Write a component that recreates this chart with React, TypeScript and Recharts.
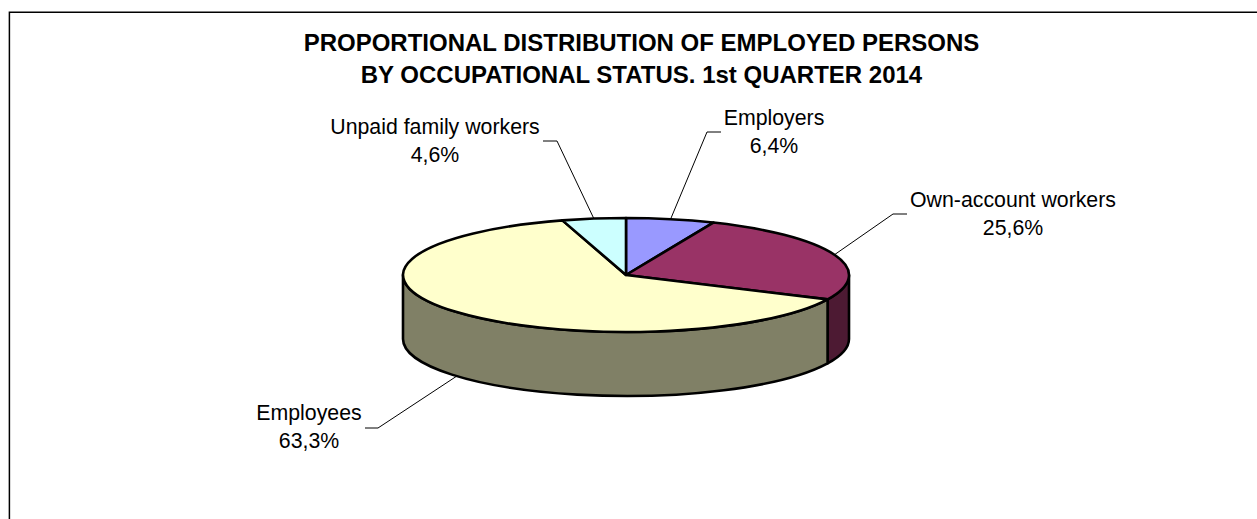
import { Pie, PieChart } from "recharts";

const categories = ["Employers", "Own-account workers", "Employees", "Unpaid family workers"];
const shares = [6.4, 25.6, 63.3, 4.6];
const topColors = ["#9999ff", "#993366", "#ffffcc", "#ccffff"];
const wallColors = ["#4d4d80", "#4d1a33", "#808066", "#668080"];
const titleLines = [
  "PROPORTIONAL DISTRIBUTION OF EMPLOYED PERSONS",
  "BY OCCUPATIONAL STATUS. 1st QUARTER 2014",
];

// elbow of each leader line, end of its short tail, and where its text sits
const leaderElbows = [
  [707, 132, 721],
  [893, 214, 907],
  [378, 428, 365],
  [557, 141, 543],
];
const labelCentres = [
  [774, 125],
  [1013, 207],
  [309, 420],
  [435, 134],
];

const WIDTH = 1257;
const HEIGHT = 519;
const CX = 626;
const CY = 275;
const RX = 223;
const TILT = 57 / 223;
const DEPTH = 64;
const EDGE = 2.6;
const FONT = '"Liberation Sans", Arial, sans-serif';

const RAD = Math.PI / 180;
const px = (cx: number, r: number, a: number) => cx + r * Math.cos(a * RAD);
const py = (cy: number, r: number, a: number) => cy - r * TILT * Math.sin(a * RAD);

function TopSector({ cx, cy, outerRadius: r, startAngle, endAngle, fill }: any) {
  const ry = r * TILT;
  const large = Math.abs(startAngle - endAngle) > 180 ? 1 : 0;
  const d = `M${cx} ${cy}L${px(cx, r, startAngle)} ${py(cy, r, startAngle)}A${r} ${ry} 0 ${large} 1 ${px(cx, r, endAngle)} ${py(cy, r, endAngle)}Z`;
  return <path d={d} fill={fill} stroke="#000" strokeWidth={EDGE} strokeLinejoin="round" />;
}

// the side of the pie only shows on the front half of the ellipse
function WallSector({ cx, cy, outerRadius: r, startAngle, endAngle, fill }: any) {
  const from = Math.min(startAngle, 0);
  const to = Math.max(endAngle, -180);
  if (from <= to) return null;
  const ry = r * TILT;
  const x1 = px(cx, r, from);
  const y1 = py(cy, r, from);
  const x2 = px(cx, r, to);
  const y2 = py(cy, r, to);
  const d = `M${x1} ${y1}A${r} ${ry} 0 0 1 ${x2} ${y2}L${x2} ${y2 + DEPTH}A${r} ${ry} 0 0 0 ${x1} ${y1 + DEPTH}Z`;
  return <path d={d} fill={fill} stroke="#000" strokeWidth={EDGE} strokeLinejoin="round" />;
}

function renderLabel({ index, name, value, midAngle, cx, cy, outerRadius }: any) {
  const startX = px(cx, outerRadius, midAngle);
  const lift = Math.sin(midAngle * RAD) < 0 ? DEPTH : 0;
  const startY = py(cy, outerRadius, midAngle) + lift;
  const [elbowX, elbowY, tailX] = leaderElbows[index];
  const [textX, textY] = labelCentres[index];
  return (
    <g key={name}>
      <polyline
        points={`${startX},${startY} ${elbowX},${elbowY} ${tailX},${elbowY}`}
        fill="none"
        stroke="#000"
        strokeWidth={1}
      />
      <text x={textX} y={textY} textAnchor="middle" fontFamily={FONT} fontSize={21.3} fill="#000">
        {name}
      </text>
      <text x={textX} y={textY + 27.5} textAnchor="middle" fontFamily={FONT} fontSize={21.3} fill="#000">
        {String(value).replace(".", ",")}%
      </text>
    </g>
  );
}

const topData = categories.map((name, i) => ({ name, value: shares[i], fill: topColors[i] }));
const wallData = categories.map((name, i) => ({ name, value: shares[i], fill: wallColors[i] }));

export default function App() {
  return (
    <div style={{ position: "absolute", left: 0, top: 0, width: WIDTH, height: HEIGHT, background: "#fff" }}>
      <PieChart width={WIDTH} height={HEIGHT} margin={{ top: 0, right: 0, bottom: 0, left: 0 }}>
        <path d={`M9.4 ${HEIGHT}V12.2H${WIDTH}`} fill="none" stroke="#000" strokeWidth={1.5} />
        {titleLines.map((line, i) => (
          <text
            key={line}
            x={641.5}
            y={51 + i * 32}
            textAnchor="middle"
            fontFamily={FONT}
            fontSize={24}
            fontWeight="bold"
            fill="#000"
          >
            {line}
          </text>
        ))}
        <Pie
          data={wallData}
          dataKey="value"
          nameKey="name"
          cx={CX}
          cy={CY}
          outerRadius={RX}
          startAngle={90}
          endAngle={-270}
          shape={WallSector}
          isAnimationActive={false}
        />
        <Pie
          data={topData}
          dataKey="value"
          nameKey="name"
          cx={CX}
          cy={CY}
          outerRadius={RX}
          startAngle={90}
          endAngle={-270}
          shape={TopSector}
          label={renderLabel}
          labelLine={false}
          isAnimationActive={false}
        />
      </PieChart>
    </div>
  );
}
